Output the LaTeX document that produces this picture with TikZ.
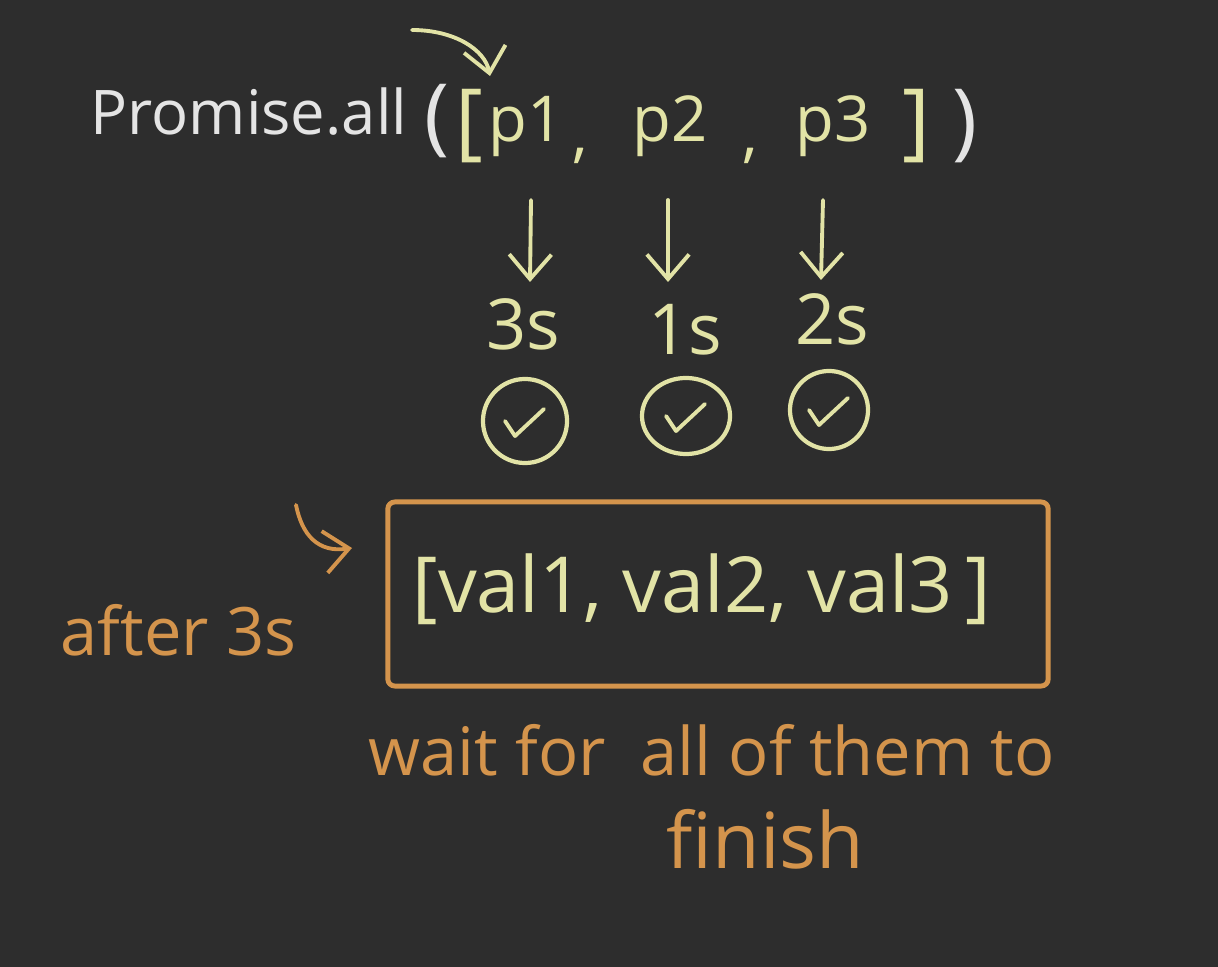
\documentclass[tikz,border=0pt]{standalone}
\usepackage{fontspec}
\setmainfont{Open Sans}
\usetikzlibrary{arrows.meta,calc}
\definecolor{bg}{HTML}{2D2D2D}
\definecolor{chalk}{HTML}{E4E4E4}
\definecolor{cream}{HTML}{E2E3A6}
\definecolor{ora}{HTML}{D4944C}
\begin{document}
\begin{tikzpicture}[x=0.01cm,y=-0.01cm,
  txt/.style={inner sep=0pt, anchor=base west},
  wht/.style={txt, text=chalk},
  crm/.style={txt, text=cream},
  org/.style={txt, text=ora},
  hand/.style={line width=1.1pt, line cap=round, line join=round},
  arr/.style={hand, -{Straight Barb[length=7pt,width=12pt]}},
  okc/.style={circle, draw=cream, line width=1.2pt, inner sep=0pt}]
\fill[bg] (0,0) rectangle (1218,967);
\useasboundingbox (0,0) rectangle (1218,967);

% top line
\node[wht, font=\fontsize{17.5}{21}\selectfont] (prom) at (90,135) {Promise.all};
\node[wht, font=\fontsize{24}{28}\selectfont] (lpar) at (424,145) {(};
\node[crm, font=\fontsize{24}{28}\selectfont] (lbr) at (455,150) {[};
\node[crm, font=\fontsize{18}{22}\selectfont] (p1) at (488,142) {p1};
\node[crm, font=\fontsize{18}{22}\selectfont] (cm1) at (572,156) {,};
\node[crm, font=\fontsize{18}{22}\selectfont] (p2) at (632,142) {p2};
\node[crm, font=\fontsize{18}{22}\selectfont] (cm2) at (742,156) {,};
\node[crm, font=\fontsize{18}{22}\selectfont] (p3) at (795,142) {p3};
\node[crm, font=\fontsize{24}{28}\selectfont] (rbr) at (902,150) {]};
\node[wht, font=\fontsize{24}{28}\selectfont] (rpar) at (952,150) {)};

% curved pointer arrow
\coordinate (cstart) at (412,30);
\coordinate (cend) at (490,76);
\draw[arr, cream] (cstart) .. controls (455,30) and (485,50) .. (cend);

% durations
\node[crm, font=\fontsize{20}{24}\selectfont] (t1) at (486,350) {3s};
\node[crm, font=\fontsize{20}{24}\selectfont] (t2) at (648,355) {1s};
\node[crm, font=\fontsize{20}{24}\selectfont] (t3) at (795,345) {2s};

\coordinate (a1) at (531,200);
\coordinate (a2) at (668,200);
\coordinate (a3) at (823,200);
\draw[arr, cream] (a1) -- ++(-1,82);
\draw[arr, cream] (a2) -- ++(0,82);
\draw[arr, cream] (a3) -- ++(-2,80);

% check circles
\node[okc, minimum size=0.84cm] (c1) at (525,421) {};
\node[okc, minimum size=0.8cm, xscale=1.1, yscale=0.95] (c2) at (686,416) {};
\node[okc, minimum size=0.78cm] (c3) at (829,410) {};
\foreach \c in {c1,c2,c3}{
  \draw[hand, cream] ($(\c)+(-20,0)$) -- ++(10,15) -- ++(29,-27);
}

% result box
\node[draw=ora, line width=1.4pt, rounded corners=2pt, minimum width=6.6cm, minimum height=1.84cm, inner sep=0pt] (box) at (718,594) {};
\node[crm, anchor=base, font=\fontsize{22}{26}\selectfont] (vals) at (702,612) {[val1, val2, val3\,]};

\coordinate (small) at (296,505);
\draw[arr, ora] (small) .. controls (302,535) and (318,553) .. (352,548);

\node[org, font=\fontsize{19}{22}\selectfont] (after) at (60,656) {after 3s};
\node[org, font=\fontsize{19}{22}\selectfont] (wait) at (368,775) {wait for \ all of them to};
\node[org, font=\fontsize{22}{26}\selectfont] (fin) at (666,868) {finish};
\end{tikzpicture}
\end{document}
